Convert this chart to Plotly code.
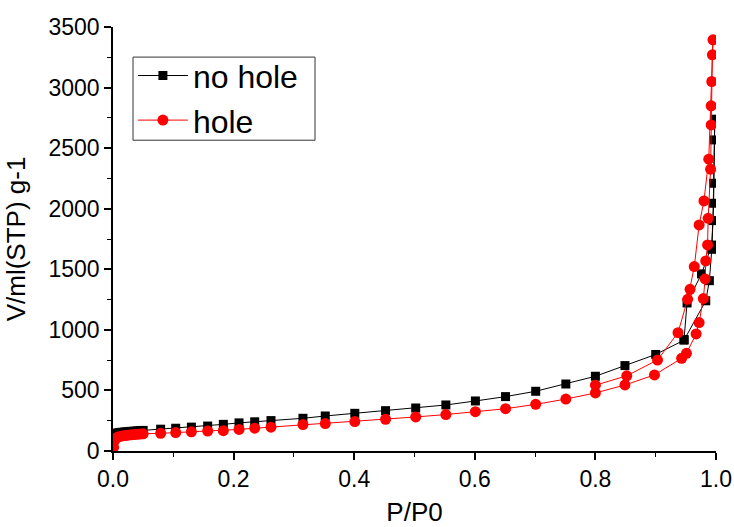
import plotly.graph_objects as go

# ---- data: no hole (adsorption then desorption) ----
nohole_p = [0.002, 0.005, 0.01, 0.015, 0.02, 0.025, 0.03, 0.035, 0.04, 0.045, 0.05,
            0.079, 0.104, 0.13, 0.157, 0.183, 0.209, 0.235, 0.262, 0.315, 0.352,
            0.401, 0.452, 0.502, 0.552, 0.601, 0.651, 0.701, 0.751, 0.800, 0.849,
            0.900, 0.947, 0.983, 0.989, 0.993, 0.995, 0.996, 0.997, 0.998,
            0.996, 0.993, 0.976, 0.952, 0.947]
nohole_v = [140, 148, 152, 155, 158, 160, 162, 164, 166, 168, 170,
            180, 188, 197, 206, 220, 232, 241, 251, 270, 289,
            311, 333, 355, 380, 413, 449, 493, 553, 617, 705,
            797, 915, 1240, 1406, 1665, 1902, 2210, 2568, 2739,
            2045, 1700, 1462, 1222, 920]

# ---- data: hole (adsorption then desorption) ----
hole_p = [0.001, 0.002, 0.004, 0.007, 0.01, 0.015, 0.02, 0.025, 0.03, 0.035, 0.04,
          0.045, 0.05, 0.079, 0.104, 0.13, 0.157, 0.183, 0.209, 0.235, 0.262,
          0.315, 0.352, 0.401, 0.452, 0.502, 0.552, 0.601, 0.651, 0.701, 0.751,
          0.800, 0.849, 0.898, 0.943, 0.951, 0.967, 0.972, 0.979, 0.982, 0.983,
          0.986, 0.987, 0.991, 0.992, 0.992, 0.993, 0.994, 0.995,
          0.988, 0.980, 0.972, 0.964, 0.957, 0.953, 0.937, 0.903, 0.852, 0.800]
hole_v = [30, 80, 100, 112, 118, 124, 128, 131, 134, 136, 138,
          140, 142, 146, 152, 158, 165, 168, 178, 188, 197,
          218, 226, 243, 262, 281, 301, 325, 349, 385, 429,
          479, 545, 628, 765, 806, 966, 1060, 1258, 1420, 1569,
          1701, 1921, 2326, 2692, 2849, 3050, 3270, 3394,
          2409, 2064, 1866, 1522, 1335, 1252, 977, 751, 621, 543]

x_ticks = [0.0, 0.2, 0.4, 0.6, 0.8, 1.0]
x_ticklabels = ["0.0", "0.2", "0.4", "0.6", "0.8", "1.0"]
y_ticks = [0, 500, 1000, 1500, 2000, 2500, 3000, 3500]

FONT = "Liberation Sans, Arial, sans-serif"

fig = go.Figure()
fig.add_trace(go.Scatter(
    x=nohole_p, y=nohole_v, mode="lines+markers", name="no hole",
    line=dict(color="black", width=1),
    marker=dict(symbol="square", size=9, color="black"),
))
fig.add_trace(go.Scatter(
    x=hole_p, y=hole_v, mode="lines+markers", name="hole",
    line=dict(color="red", width=1),
    marker=dict(symbol="circle", size=11, color="red"),
))

axis_common = dict(showgrid=False, zeroline=False, showline=True, automargin=False,
                   linecolor="black", linewidth=1.5, tickcolor="black")

fig.update_layout(
    width=734, height=527,
    margin=dict(l=113, r=18, t=27, b=76),
    plot_bgcolor="white", paper_bgcolor="white",
    font=dict(family=FONT, color="black", size=23),
    showlegend=True,
    legend=dict(x=0.033, y=0.950, xanchor="left", yanchor="top",
                bgcolor="rgba(0,0,0,0)", borderwidth=0,
                font=dict(size=32, family=FONT), tracegroupgap=0,
                itemwidth=50),
    shapes=[dict(type="rect", xref="paper", yref="paper",
                 x0=0.0332, x1=0.335, y0=0.733, y1=0.929,
                 line=dict(color="#333333", width=1), fillcolor="white",
                 layer="above")],
    xaxis=dict(range=[0, 1], tickvals=x_ticks, ticktext=x_ticklabels,
               ticks="outside", ticklen=7, tickwidth=1.5,
               minor=dict(dtick=0.1, ticks="outside", ticklen=4, tickcolor="black", tickwidth=1),
               title=dict(text="P/P0", font=dict(size=26)),
               tickfont=dict(size=23), **axis_common),
    yaxis=dict(range=[0, 3500], tickvals=y_ticks,
               ticks="outside", ticklen=7, tickwidth=1.5,
               minor=dict(dtick=250, ticks="outside", ticklen=4, tickcolor="black", tickwidth=1),
               title=dict(text="V/ml(STP) g-1", font=dict(size=26)),
               tickfont=dict(size=23), **axis_common),
    xaxis2=dict(range=[0, 1], overlaying="x", side="top", anchor="y",
                tickvals=x_ticks, showticklabels=False,
                ticks="inside", ticklen=5, tickwidth=1,
                minor=dict(dtick=0.1, ticks="inside", ticklen=3, tickcolor="black"),
                **axis_common),
    yaxis2=dict(range=[0, 3500], overlaying="y", side="right", anchor="x",
                tickvals=y_ticks, showticklabels=False,
                ticks="inside", ticklen=5, tickwidth=1,
                minor=dict(dtick=250, ticks="inside", ticklen=3, tickcolor="black"),
                **axis_common),
)

fig.write_html("out.html")
